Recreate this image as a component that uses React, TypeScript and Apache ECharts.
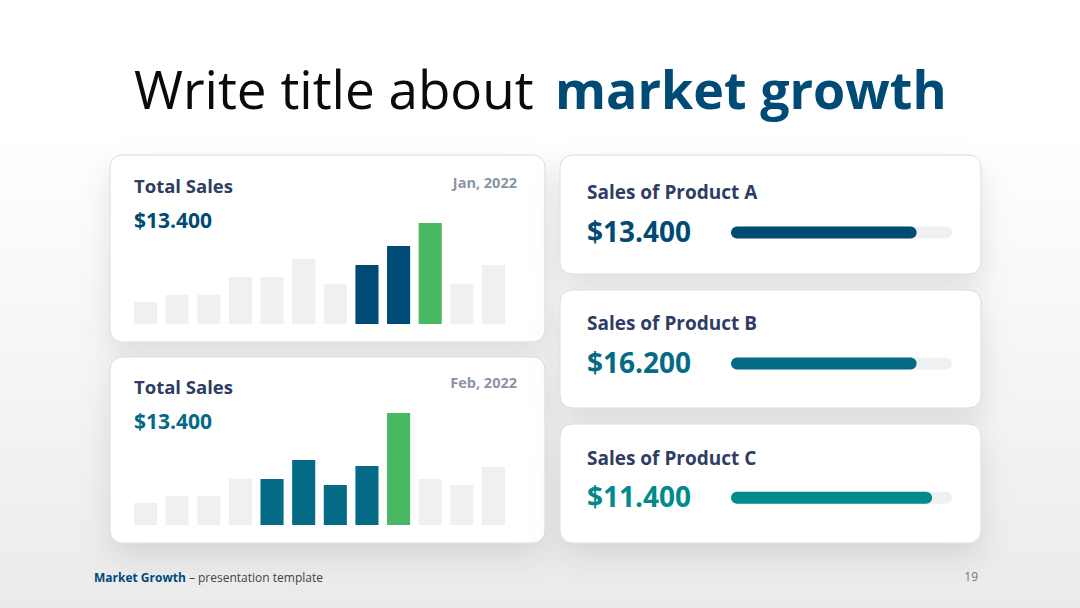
import React, { useEffect, useRef } from "react";
import * as echarts from "echarts";

const months = ["Jan", "Feb", "Mar", "Apr", "May", "Jun", "Jul", "Aug", "Sep", "Oct", "Nov", "Dec"];
const janValues = [22, 29, 29, 47, 47, 65, 40, 59, 78, 101, 40, 59];
const janKinds = ["g", "g", "g", "g", "g", "g", "g", "d", "d", "h", "g", "g"];
const febValues = [22, 29, 29, 46, 46, 65, 40, 59, 112, 46, 40, 58];
const febKinds = ["g", "g", "g", "g", "d", "d", "d", "d", "h", "g", "g", "g"];
const cardTitles = ["Total Sales", "Total Sales"];
const cardDates = ["Jan, 2022", "Feb, 2022"];
const cardTotals = ["$13.400", "$13.400"];
const productNames = ["Sales of Product A", "Sales of Product B", "Sales of Product C"];
const productValues = ["$13.400", "$16.200", "$11.400"];
const productProgress = [84, 84, 91];

const FONT = "'Open Sans', sans-serif";
const NAVY = "#004a76";
const TEAL = "#046a86";
const GREEN = "#49b862";
const LIGHT = "#eef0f2";
const SLATE = "#2f3c63";
const productColors = [NAVY, "#046a86", "#02898b"];

export default function App() {
  const ref = useRef<HTMLDivElement>(null);
  useEffect(() => {
    document.body.style.margin = "0";
    const chart = echarts.init(ref.current!, null, { renderer: "svg" });

    const colorFor = (k: string, dark: string) => (k === "h" ? GREEN : k === "d" ? dark : LIGHT);

    const cards = [
      { x: 110, y: 155, w: 435, h: 187 },
      { x: 110, y: 357, w: 435, h: 186 },
      { x: 560, y: 155, w: 421, h: 119 },
      { x: 560, y: 290, w: 421, h: 118 },
      { x: 560, y: 424, w: 421, h: 119 },
    ];

    const graphic: any[] = [
      {
        type: "rect",
        shape: { x: 0, y: 0, width: 1080, height: 608 },
        style: {
          fill: new echarts.graphic.LinearGradient(0, 0, 0, 1, [
            { offset: 0, color: "#ffffff" },
            { offset: 0.22, color: "#ffffff" },
            { offset: 1, color: "#ebebeb" },
          ]),
        },
        z: -10,
      },
      {
        type: "text",
        x: 134,
        y: 88,
        style: {
          text: "Write title about",
          font: `400 53px ${FONT}`,
          fill: "#0a0a0a",
          verticalAlign: "middle",
        },
        z: 10,
      },
      {
        type: "text",
        x: 555,
        y: 88,
        style: {
          text: "market growth",
          font: `700 52px ${FONT}`,
          fill: NAVY,
          verticalAlign: "middle",
        },
        z: 10,
      },
    ];

    cards.forEach((c) => {
      graphic.push({
        type: "rect",
        shape: { x: c.x, y: c.y, width: c.w, height: c.h, r: 12 },
        style: {
          fill: "#ffffff",
          stroke: "#dadada",
          lineWidth: 1,
          shadowBlur: 30,
          shadowOffsetY: 14,
          shadowColor: "rgba(0,0,0,0.10)",
        },
        z: -5,
      });
    });

    const totalY = [
      { t: 185, v: 220, d: 182 },
      { t: 386, v: 421, d: 382.5 },
    ];
    totalY.forEach((p, i) => {
      graphic.push(
        { type: "text", x: 134, y: p.t, style: { text: cardTitles[i], font: `700 18.5px ${FONT}`, fill: SLATE, verticalAlign: "middle" }, z: 10 },
        { type: "text", x: 134, y: p.v, style: { text: cardTotals[i], font: `700 21px ${FONT}`, fill: i === 0 ? NAVY : TEAL, verticalAlign: "middle" }, z: 10 },
        { type: "text", x: 517, y: p.d, style: { text: cardDates[i], font: `700 14.5px ${FONT}`, fill: "#8b94a6", align: "right", verticalAlign: "middle" }, z: 10 }
      );
    });

    const prodY = [
      { t: 192, v: 230.7 },
      { t: 323, v: 361.7 },
      { t: 457.5, v: 495.5 },
    ];
    prodY.forEach((p, i) => {
      graphic.push(
        { type: "text", x: 587, y: p.t, style: { text: productNames[i], font: `700 19px ${FONT}`, fill: SLATE, verticalAlign: "middle" }, z: 10 },
        { type: "text", x: 587, y: p.v, style: { text: productValues[i], font: `700 28px ${FONT}`, fill: productColors[i], verticalAlign: "middle" }, z: 10 }
      );
    });

    graphic.push(
      {
        type: "text",
        x: 94,
        y: 577,
        style: {
          text: "{b|Market Growth}{r| – presentation template}",
          verticalAlign: "middle",
          rich: {
            b: { font: `700 12px ${FONT}`, fill: NAVY },
            r: { font: `400 12px ${FONT}`, fill: "#444444" },
          },
        },
        z: 10,
      },
      {
        type: "text",
        x: 978,
        y: 576,
        style: { text: "19", font: `400 12px ${FONT}`, fill: "#777777", align: "right", verticalAlign: "middle" },
        z: 10,
      }
    );

    const progressTops = [226.5, 357.5, 491.8];

    const grids: any[] = [
      { left: 129.7, top: 223, width: 379.6, height: 101 },
      { left: 129.7, top: 413, width: 379.6, height: 112 },
      ...progressTops.map((t) => ({ left: 731, top: t, width: 221, height: 12 })),
    ];

    const xAxis: any[] = [
      { type: "category", gridIndex: 0, data: months, show: false },
      { type: "category", gridIndex: 1, data: months, show: false },
      ...progressTops.map((_, i) => ({ type: "value", gridIndex: i + 2, min: 0, max: 100, show: false })),
    ];
    const yAxis: any[] = [
      { type: "value", gridIndex: 0, min: 0, max: 101, show: false },
      { type: "value", gridIndex: 1, min: 0, max: 112, show: false },
      ...progressTops.map((_, i) => ({ type: "category", gridIndex: i + 2, data: [productNames[i]], show: false })),
    ];

    const series: any[] = [
      {
        type: "bar",
        xAxisIndex: 0,
        yAxisIndex: 0,
        barCategoryGap: "27%",
        data: janValues.map((v, i) => ({ value: v, itemStyle: { color: colorFor(janKinds[i], NAVY) } })),
      },
      {
        type: "bar",
        xAxisIndex: 1,
        yAxisIndex: 1,
        barCategoryGap: "27%",
        data: febValues.map((v, i) => ({ value: v, itemStyle: { color: colorFor(febKinds[i], TEAL) } })),
      },
      ...productProgress.map((p, i) => ({
        type: "bar",
        xAxisIndex: i + 2,
        yAxisIndex: i + 2,
        barWidth: 12,
        showBackground: true,
        backgroundStyle: { color: LIGHT, borderRadius: 6 },
        itemStyle: { color: productColors[i], borderRadius: 6 },
        data: [p],
      })),
    ];

    chart.setOption({
      animation: false,
      graphic,
      grid: grids,
      xAxis,
      yAxis,
      series,
      tooltip: { show: false },
    });
    return () => chart.dispose();
  }, []);

  return <div ref={ref} style={{ position: "relative", width: 1080, height: 608 }} />;
}
